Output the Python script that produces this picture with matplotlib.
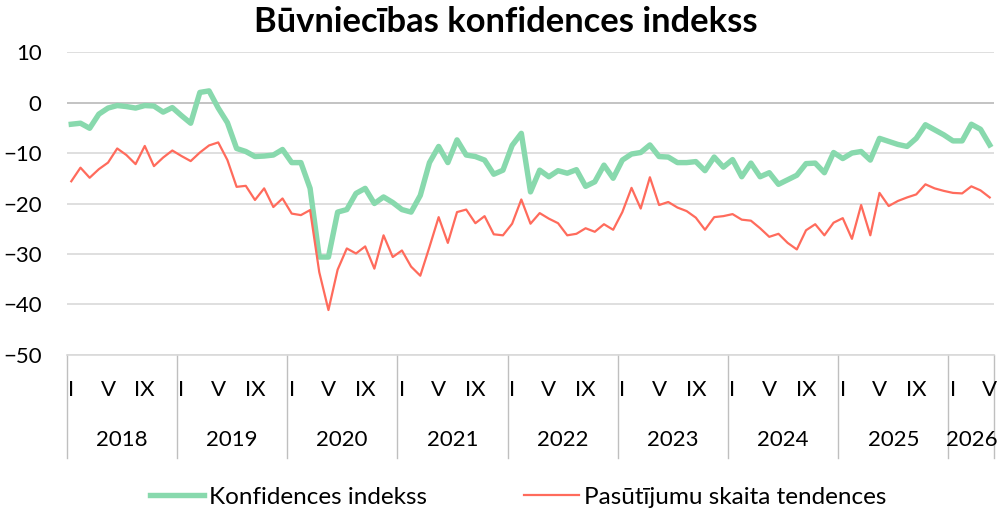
import matplotlib as mpl
import matplotlib.pyplot as plt
from matplotlib.lines import Line2D

# monthly values, I.2018 .. V.2026
years = ["2018", "2019", "2020", "2021", "2022", "2023", "2024", "2025", "2026"]
month_labels = ["I", "V", "IX"]

konfidences = [
    -4.3, -4.1, -5.1, -2.3, -1.1, -0.6, -0.8, -1.1, -0.6, -0.7, -1.9, -1.0,
    -2.6, -4.1, 2.0, 2.3, -1.1, -4.0, -9.1, -9.7, -10.7, -10.6, -10.4, -9.3,
    -11.9, -11.9, -17.0, -30.6, -30.6, -21.7, -21.2, -18.0, -17.0, -20.0, -18.7, -19.8,
    -21.2, -21.7, -18.4, -11.9, -8.7, -11.9, -7.4, -10.4, -10.7, -11.4, -14.2, -13.4,
    -8.5, -6.1, -17.7, -13.4, -14.7, -13.5, -14.0, -13.3, -16.6, -15.7, -12.4, -15.0,
    -11.4, -10.2, -9.9, -8.4, -10.7, -10.8, -11.9, -11.9, -11.7, -13.5, -10.8, -12.8,
    -11.3, -14.7, -12.0, -14.7, -13.9, -16.2, -15.3, -14.4, -12.1, -12.0, -13.9, -9.9,
    -11.1, -10.0, -9.7, -11.4, -7.1, -7.7, -8.3, -8.7, -7.1, -4.4, -5.4, -6.4,
    -7.6, -7.6, -4.3, -5.3, -8.4,
]
pasutijumi = [
    -15.6, -12.9, -14.9, -13.2, -11.9, -9.1, -10.4, -12.2, -8.6, -12.6, -10.9, -9.5,
    -10.6, -11.6, -9.9, -8.5, -7.9, -11.4, -16.7, -16.5, -19.3, -17.0, -20.7, -19.0,
    -22.0, -22.3, -21.3, -33.6, -41.1, -33.1, -28.9, -29.9, -28.5, -32.9, -26.3, -30.6,
    -29.3, -32.5, -34.3, -28.6, -22.7, -27.8, -21.7, -21.2, -23.9, -22.5, -26.1, -26.3,
    -24.0, -19.2, -24.0, -21.9, -23.0, -23.9, -26.3, -26.0, -24.9, -25.6, -24.1, -25.2,
    -21.7, -16.9, -21.0, -14.8, -20.3, -19.7, -20.8, -21.5, -22.8, -25.2, -22.7, -22.5,
    -22.1, -23.2, -23.4, -24.9, -26.6, -26.0, -27.8, -29.1, -25.3, -24.1, -26.3, -23.8,
    -22.9, -27.0, -20.3, -26.3, -17.9, -20.5, -19.5, -18.8, -18.2, -16.2, -17.0, -17.5,
    -17.9, -18.0, -16.6, -17.4, -18.8,
]

GREEN = "#88d9ad"
RED = "#ff6b5c"
GRID = "#d9d9d9"
AXIS = "#bfbfbf"

mpl.rcParams["font.family"] = ["Lato", "DejaVu Sans"]

fig = plt.figure(figsize=(10, 5.11), dpi=100)
ax = fig.add_axes([0.0667, 0.3053, 0.9276, 0.5929])

n = len(konfidences)
x = list(range(n))
ax.plot(x, konfidences, color=GREEN, lw=3.9, solid_joinstyle="round", zorder=3)
ax.plot(x, pasutijumi, color=RED, lw=1.6, solid_joinstyle="round", zorder=4)

ax.set_xlim(-0.5, n - 0.5)
ax.set_ylim(-50, 10)
ax.set_yticks(range(-50, 11, 10))
ax.tick_params(axis="y", length=0, pad=18, labelsize=16)
ax.tick_params(axis="x", length=0, labelbottom=False)
ax.grid(axis="y", color=GRID, lw=1.2)
for s in ("top", "right", "left"):
    ax.spines[s].set_visible(False)
ax.spines["bottom"].set_color(GRID)
ax.spines["bottom"].set_linewidth(1.2)
ax.axhline(0, color=AXIS, lw=1.2, zorder=1)
ax.set_axisbelow(True)

# two-level category axis
tr = ax.get_xaxis_transform()
for k, yr in enumerate(years):
    start = 12 * k
    end = min(start + 12, n)
    ax.plot([start - 0.5, start - 0.5], [0, -0.34], transform=tr, color=AXIS,
            lw=1.0, clip_on=False)
    for j, lab in zip((0, 4, 8), month_labels):
        if start + j < n:
            ax.text(start + j, -0.115, lab, transform=tr, ha="center", va="center",
                    fontsize=16)
    ax.text((start + end - 1) / 2, -0.28, yr, transform=tr, ha="center", va="center",
            fontsize=16)
ax.plot([n - 0.5, n - 0.5], [0, -0.34], transform=tr, color=AXIS, lw=1.0,
        clip_on=False)

fig.text(0.506, 0.957, "Būvniecības konfidences indekss", ha="center", va="center",
         fontsize=24.8, fontweight="bold")

handles = [Line2D([], [], color=GREEN, lw=3.9), Line2D([], [], color=RED, lw=1.6)]
fig.legend(handles, ["Konfidences indekss", "Pasūtījumu skaita tendences"],
           loc="center", bbox_to_anchor=(0.518, 0.027), ncol=2, frameon=False,
           fontsize=17.5, handlelength=2.25, handletextpad=0.2, columnspacing=4.0)

fig.savefig("out.png", dpi=100)
